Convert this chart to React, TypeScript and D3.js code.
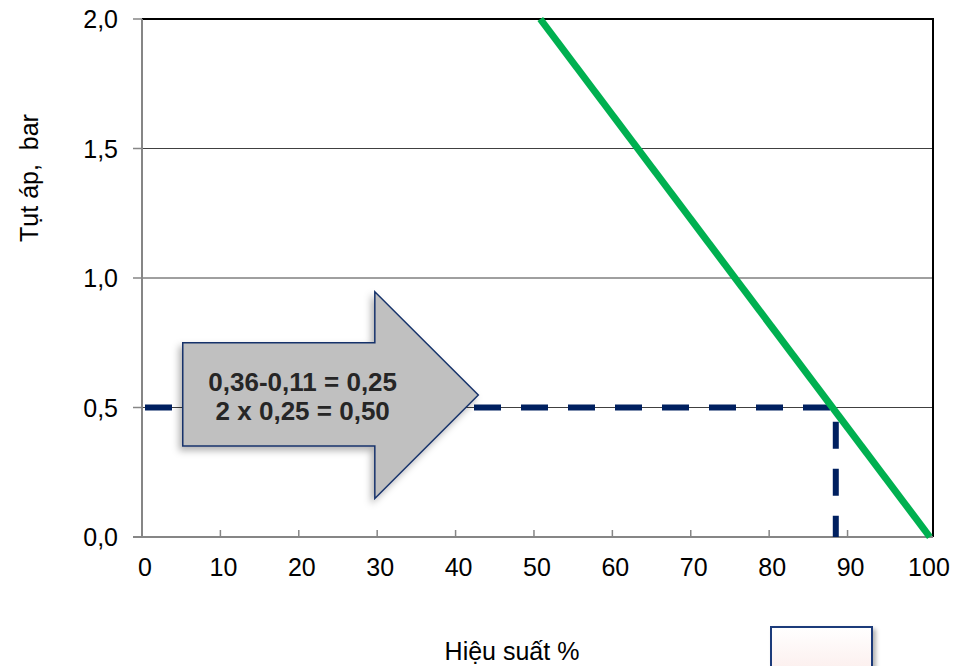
import React from "react";
import * as d3 from "d3";

const xTicks = [0, 10, 20, 30, 40, 50, 60, 70, 80, 90, 100];
const yTicks = [0, 0.5, 1.0, 1.5, 2.0];
const efficiencyLine = [
  { x: 50.8, y: 2.0 },
  { x: 100.5, y: 0.0 },
];
const readoutPath = [
  { x: 0, y: 0.5 },
  { x: 88.5, y: 0.5 },
  { x: 88.5, y: 0.0 },
];
const arrowLines = ["0,36-0,11 = 0,25", "2 x 0,25 = 0,50"];
const xTitle = "Hiệu suất %";
const yTitle = "Tụt áp,  bar";

const W = 961;
const H = 666;
const left = 142;
const right = 933;
const top = 19;
const bottom = 537;
const FONT = "'Liberation Sans', Arial, sans-serif";

export default function App() {
  const x = d3.scaleLinear().domain([0, 100.9]).range([left, right]);
  const y = d3.scaleLinear().domain([0, 2]).range([bottom, top]);
  const line = d3
    .line<{ x: number; y: number }>()
    .x((d) => x(d.x))
    .y((d) => y(d.y));

  // arrow annotation in data units
  const ax0 = 5.2, axHead = 29.7, axTip = 42.9;
  const ayBodyTop = 0.75, ayBodyBot = 0.351, ayHeadTop = 0.947, ayHeadBot = 0.149, ayTip = 0.548;
  const arrowPts: [number, number][] = [
    [x(ax0), y(ayBodyTop)],
    [x(axHead), y(ayBodyTop)],
    [x(axHead), y(ayHeadTop)],
    [x(axTip), y(ayTip)],
    [x(axHead), y(ayHeadBot)],
    [x(axHead), y(ayBodyBot)],
    [x(ax0), y(ayBodyBot)],
  ];
  const arrowPath = "M" + arrowPts.map((p) => p.join(",")).join("L") + "Z";

  return (
    <svg
      width={W}
      height={H}
      style={{ position: "absolute", left: 0, top: 0, background: "#fff" }}
      fontFamily={FONT}
    >
      <defs>
        <filter id="shadow" x="-20%" y="-20%" width="140%" height="150%">
          <feDropShadow dx="-3" dy="4" stdDeviation="3.5" floodColor="#000" floodOpacity="0.3" />
        </filter>
        <filter id="shadow2" x="-20%" y="-20%" width="140%" height="150%">
          <feDropShadow dx="3" dy="3" stdDeviation="2" floodColor="#000" floodOpacity="0.3" />
        </filter>
        <linearGradient id="boxGrad" x1="0" y1="0" x2="0" y2="1">
          <stop offset="0" stopColor="#ffffff" />
          <stop offset="1" stopColor="#fbe9e7" />
        </linearGradient>
      </defs>

      {/* gridlines */}
      {yTicks
        .filter((t) => t > 0 && t < 2)
        .map((t) => (
          <line key={"g" + t} x1={left} x2={right} y1={y(t)} y2={y(t)} stroke="#404040" strokeWidth={1} />
        ))}
      {/* top & right frame */}
      <line x1={left} x2={right} y1={y(2)} y2={y(2)} stroke="#000" strokeWidth={2} />
      <line x1={right} x2={right} y1={top - 1} y2={bottom} stroke="#000" strokeWidth={2} />

      {/* y axis */}
      <line x1={left} x2={left} y1={top} y2={bottom} stroke="#868686" strokeWidth={2} />
      {yTicks.map((t) => (
        <g key={"y" + t}>
          <line x1={left - 9} x2={left} y1={y(t)} y2={y(t)} stroke="#868686" strokeWidth={1.5} />
          <text x={118} y={y(t)} dy="0.36em" textAnchor="end" fontSize={25} fill="#000">
            {d3.format(".1f")(t).replace(".", ",")}
          </text>
        </g>
      ))}

      {/* x axis */}
      <line x1={left - 9} x2={right} y1={bottom} y2={bottom} stroke="#868686" strokeWidth={2} />
      {xTicks.map((t) => (
        <g key={"x" + t}>
          {t > 0 && t < 100 && (
            <line x1={x(t)} x2={x(t)} y1={bottom} y2={bottom - 7} stroke="#868686" strokeWidth={1.5} />
          )}
          <text x={x(t) + 3} y={576} textAnchor="middle" fontSize={25} fill="#000">
            {t}
          </text>
        </g>
      ))}

      {/* readout dashed line */}
      <path
        d={line(readoutPath) || ""}
        fill="none"
        stroke="#002060"
        strokeWidth={6}
        strokeDasharray="27 20"
        strokeDashoffset={-3}
      />

      {/* efficiency line */}
      <path d={line(efficiencyLine) || ""} fill="none" stroke="#00b050" strokeWidth={7} />

      {/* arrow annotation */}
      <path d={arrowPath} fill="#c0c0c0" stroke="#17336b" strokeWidth={1.5} filter="url(#shadow)" />
      {arrowLines.map((s, i) => (
        <text
          key={s}
          x={x(20.5)}
          y={i === 0 ? 391 : 420}
          textAnchor="middle"
          fontSize={26}
          fontWeight="bold"
          fill="#262626"
        >
          {s}
        </text>
      ))}

      {/* titles */}
      <text
        transform={`translate(38,178) rotate(-90)`}
        textAnchor="middle"
        fontSize={25}
        fill="#000"
        style={{ whiteSpace: "pre" }}
      >
        {yTitle}
      </text>
      <text x={512} y={660} textAnchor="middle" fontSize={25} fill="#000">
        {xTitle}
      </text>

      {/* legend box (empty) */}
      <rect
        x={771}
        y={627}
        width={101}
        height={60}
        fill="url(#boxGrad)"
        stroke="#1f3a7a"
        strokeWidth={2}
        filter="url(#shadow2)"
      />
    </svg>
  );
}
